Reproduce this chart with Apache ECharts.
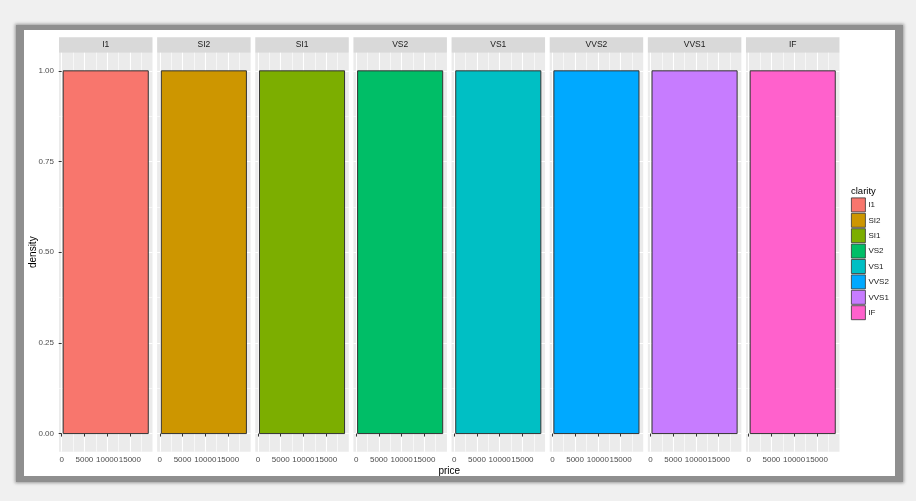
<!DOCTYPE html>
<html>
<head>
<meta charset="utf-8">
<script src="https://cdn.jsdelivr.net/npm/echarts@6/dist/echarts.min.js"></script>
<style>
  html, body { margin: 0; padding: 0; background: #f0f0f0; }
  #shadow { position: absolute; left: 16px; top: 25px; width: 887px; height: 457px; background: #8f8f8f; box-shadow: 0 0 3px 1px #9a9a9a; }
  #card { position: absolute; left: 24px; top: 30px; width: 871px; height: 446px; background: #ffffff; }
  #chart { position: absolute; left: 0; top: 0; width: 916px; height: 501px; }
</style>
</head>
<body>
<div id="shadow"></div>
<div id="card"></div>
<div id="chart"></div>
<script>
// ---- data ----
const clarity = ['I1', 'SI2', 'SI1', 'VS2', 'VS1', 'VVS2', 'VVS1', 'IF'];
const priceStart = [330, 330, 330, 330, 330, 330, 330, 330];
const priceEnd = [19050, 19050, 19050, 19050, 19050, 19050, 19050, 19050];
const densityValue = [1, 1, 1, 1, 1, 1, 1, 1];
const xMajorTicks = [0, 5000, 10000, 15000];
const xMinorTicks = [2500, 7500, 12500, 17500];
const yMajorTicks = [0, 0.25, 0.5, 0.75, 1];
const yMinorTicks = [0.125, 0.375, 0.625, 0.875];
const fillColors = ['#F8766D', '#CD9600', '#7CAE00', '#00BE67', '#00BFC4', '#00A9FF', '#C77CFF', '#FF61CC'];

// ---- layout ----
const FONT = '"Liberation Sans", Arial, sans-serif';
const X_MIN = -590, X_MAX = 19980;
const Y_MIN = -0.05, Y_MAX = 1.05;
const panelLeft0 = 59, panelPitch = 98.14, panelWidth = 93.5;
const panelTop = 52.7, panelHeight = 399;
const stripHeight = 15.4;

const grids = [], xAxes = [], yAxes = [], series = [], graphics = [];

clarity.forEach((name, i) => {
  const left = panelLeft0 + i * panelPitch;
  grids.push({
    left: left, top: panelTop, width: panelWidth, height: panelHeight,
    show: true, backgroundColor: '#EBEBEB', borderWidth: 0, containLabel: false
  });
  xAxes.push({
    type: 'value', gridIndex: i, min: X_MIN, max: X_MAX, position: 'top',
    axisLine: { show: false },
    axisTick: { show: false, customValues: xMinorTicks },
    axisLabel: { show: false, customValues: xMinorTicks },
    splitLine: { show: true, lineStyle: { color: '#ffffff', width: 0.6 } }
  });
  xAxes.push({
    type: 'value', gridIndex: i, min: X_MIN, max: X_MAX, position: 'bottom',
    axisLine: { show: false },
    axisTick: { show: true, length: 3, customValues: xMajorTicks, lineStyle: { color: '#333333', width: 1 } },
    axisLabel: {
      show: true, customValues: xMajorTicks, margin: 4, fontSize: 8, color: '#4D4D4D',
      fontFamily: FONT, hideOverlap: false, formatter: v => String(v)
    },
    splitLine: { show: true, lineStyle: { color: '#ffffff', width: 1.1 } }
  });
  yAxes.push({
    type: 'value', gridIndex: i, min: Y_MIN, max: Y_MAX, position: 'right',
    axisLine: { show: false },
    axisTick: { show: false, customValues: yMinorTicks },
    axisLabel: { show: false, customValues: yMinorTicks },
    splitLine: { show: true, lineStyle: { color: '#ffffff', width: 0.6 } }
  });
  yAxes.push({
    type: 'value', gridIndex: i, min: Y_MIN, max: Y_MAX, position: 'left',
    axisLine: { show: false },
    axisTick: { show: i === 0, length: 3, customValues: yMajorTicks, lineStyle: { color: '#333333', width: 1 } },
    axisLabel: {
      show: i === 0, customValues: yMajorTicks, margin: 5, fontSize: 8, color: '#4D4D4D',
      fontFamily: FONT, formatter: v => Number(v).toFixed(2)
    },
    splitLine: { show: true, lineStyle: { color: '#ffffff', width: 1.1 } }
  });
  series.push({
    type: 'custom', name: name,
    xAxisIndex: 2 * i + 1, yAxisIndex: 2 * i + 1,
    itemStyle: { color: fillColors[i], borderColor: '#333333', borderWidth: 1 },
    encode: { x: [0, 1], y: 2 },
    data: [[priceStart[i], priceEnd[i], densityValue[i]]],
    renderItem: (params, api) => {
      const p0 = api.coord([api.value(0), api.value(2)]);
      const p1 = api.coord([api.value(1), 0]);
      return {
        type: 'rect',
        shape: { x: p0[0], y: p0[1], width: p1[0] - p0[0], height: p1[1] - p0[1] },
        style: { fill: fillColors[i], stroke: '#333333', lineWidth: 1 }
      };
    }
  });
  graphics.push({
    type: 'rect', left: left, top: panelTop - stripHeight,
    shape: { width: panelWidth, height: stripHeight },
    style: { fill: '#D9D9D9' }, silent: true
  });
  graphics.push({
    type: 'text', x: left + panelWidth / 2, y: panelTop - stripHeight / 2,
    style: { text: name, fill: '#1A1A1A', font: '8.5px ' + FONT, textAlign: 'center', textVerticalAlign: 'middle' },
    silent: true
  });
});

graphics.push({
  type: 'text', x: panelLeft0 + (7 * panelPitch + panelWidth) / 2, y: 471,
  style: { text: 'price', fill: '#000000', font: '10px ' + FONT, textAlign: 'center', textVerticalAlign: 'middle' },
  silent: true
});
graphics.push({
  type: 'text', x: 33, y: panelTop + panelHeight / 2, rotation: Math.PI / 2,
  style: { text: 'density', fill: '#000000', font: '10px ' + FONT, textAlign: 'center', textVerticalAlign: 'middle' },
  silent: true
});
graphics.push({
  type: 'text', x: 851, y: 191,
  style: { text: 'clarity', fill: '#000000', font: '9.5px ' + FONT, textAlign: 'left', textVerticalAlign: 'middle' },
  silent: true
});

const chart = echarts.init(document.getElementById('chart'), null, { renderer: 'canvas' });
chart.setOption({
  backgroundColor: 'transparent',
  animation: false,
  grid: grids,
  xAxis: xAxes,
  yAxis: yAxes,
  series: series,
  graphic: graphics,
  legend: {
    data: clarity,
    orient: 'vertical',
    left: 851, top: 197.5,
    itemWidth: 14, itemHeight: 14, itemGap: 0.6,
    icon: 'rect',
    padding: 0,
    selectedMode: false,
    itemStyle: { borderColor: '#333333', borderWidth: 0.8 },
    textStyle: { fontSize: 8, color: '#1A1A1A', fontFamily: FONT, padding: [0, 0, 0, -2] }
  }
});
</script>
</body>
</html>
